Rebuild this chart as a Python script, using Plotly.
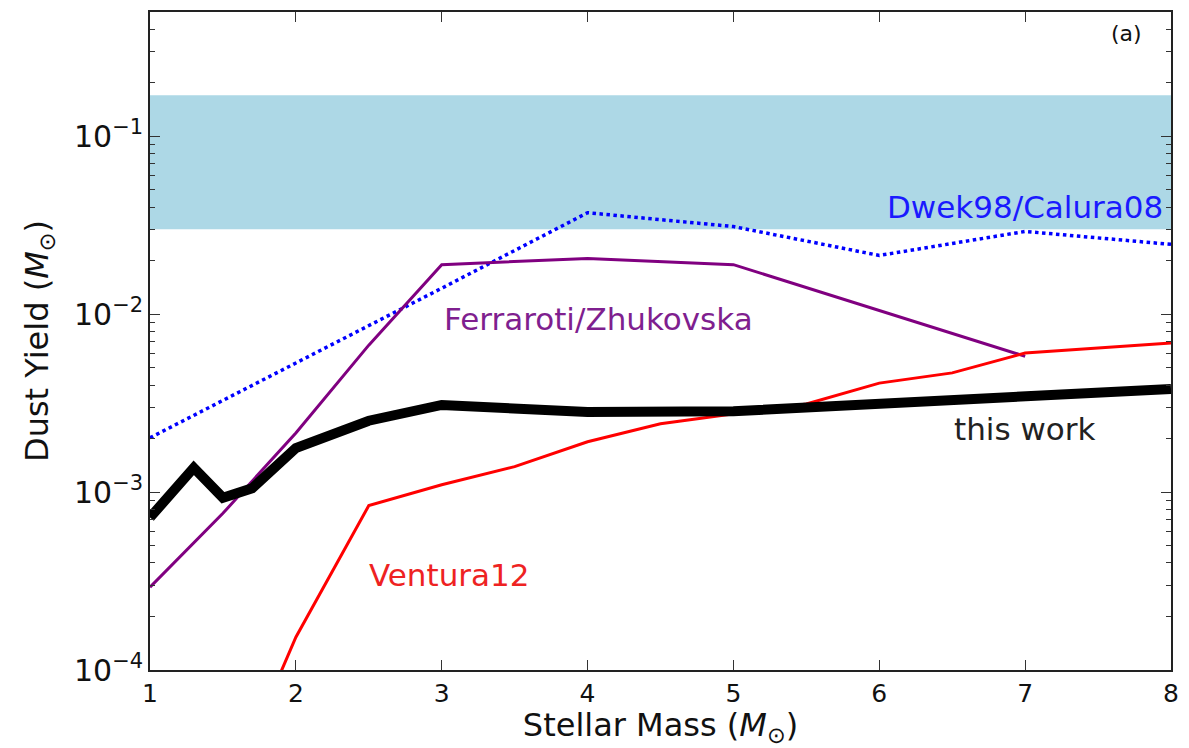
import numpy as np
import plotly.graph_objects as go

# Stellar mass grids (M_sun) and dust yields (M_sun)
mass_this = [1.0, 1.3, 1.5, 1.7, 2.0, 2.5, 3.0, 4.0, 5.0, 6.0, 7.0, 8.0]
yield_this = [7.2e-4, 1.37e-3, 9.3e-4, 1.05e-3, 1.77e-3, 2.52e-3, 3.09e-3,
              2.82e-3, 2.85e-3, 3.13e-3, 3.47e-3, 3.80e-3]

mass_fz = [1.0, 1.5, 2.0, 2.5, 3.0, 4.0, 5.0, 6.0, 7.0]
yield_fz = [2.92e-4, 7.6e-4, 2.15e-3, 6.7e-3, 1.90e-2, 2.06e-2, 1.90e-2,
            1.05e-2, 5.8e-3]

mass_v12 = [1.5, 2.0, 2.5, 3.0, 3.5, 4.0, 4.5, 5.0, 5.5, 6.0, 6.5, 7.0, 8.0]
yield_v12 = [1.7e-5, 1.53e-4, 8.4e-4, 1.10e-3, 1.39e-3, 1.92e-3, 2.42e-3,
             2.75e-3, 3.13e-3, 4.1e-3, 4.68e-3, 6.05e-3, 6.9e-3]

mass_dwek = [1.0, 2.0, 3.0, 4.0, 5.0, 6.0, 7.0, 8.0]
yield_dwek = [2.02e-3, 5.3e-3, 1.40e-2, 3.72e-2, 3.11e-2, 2.14e-2, 2.92e-2,
              2.47e-2]

# Range of the shaded band (M_sun)
band_range = [0.03, 0.17]

x_ticks = [1, 2, 3, 4, 5, 6, 7, 8]

FONT = "DejaVu Sans"

fig = go.Figure()

fig.add_shape(type="rect", xref="paper", yref="y", x0=0, x1=1,
              y0=band_range[0], y1=band_range[1],
              fillcolor="#add8e6", line_width=0, layer="below")

fig.add_trace(go.Scatter(x=mass_dwek, y=yield_dwek, mode="lines",
                         line=dict(color="#0000ff", width=3.5, dash="dot"),
                         showlegend=False))
fig.add_trace(go.Scatter(x=mass_fz, y=yield_fz, mode="lines",
                         line=dict(color="#800080", width=3),
                         showlegend=False))
fig.add_trace(go.Scatter(x=mass_v12, y=yield_v12, mode="lines",
                         line=dict(color="#ff0000", width=3),
                         showlegend=False))
fig.add_trace(go.Scatter(x=mass_this, y=yield_this, mode="lines",
                         line=dict(color="#000000", width=10),
                         showlegend=False))

labels = [
    ("Dwek98/Calura08", 7.96, 0.0403, "right", "#1a1aff"),
    ("Ferraroti/Zhukovska", 3.0, 0.00937, "left", "#7f1f8f"),
    ("this work", 6.5, 0.00227, "left", "#222222"),
    ("Ventura12", 2.49, 3.4e-4, "left", "#ee2222"),
]
for text, x, y, anchor, color in labels:
    fig.add_annotation(x=x, y=np.log10(y), text=text, showarrow=False,
                       xanchor=anchor, yanchor="middle",
                       font=dict(family=FONT, size=31, color=color))

fig.add_annotation(x=0.974, y=0.968, xref="paper", yref="paper", text="(a)",
                   showarrow=False, xanchor="right", yanchor="middle",
                   font=dict(family=FONT, size=22, color="#111111"))

fig.update_layout(
    width=1189, height=748,
    margin=dict(l=150, r=13, t=10, b=78),
    plot_bgcolor="white", paper_bgcolor="white",
    font=dict(family=FONT, color="#111111"),
)

fig.update_xaxes(
    range=[1, 8], tickvals=x_ticks, ticktext=[str(v) for v in x_ticks],
    ticks="inside", ticklen=10, tickwidth=1.2, tickcolor="#333333",
    showline=True, linecolor="#222222", linewidth=2, mirror="allticks",
    showgrid=False, zeroline=False,
    tickfont=dict(size=25, family=FONT),
    title=dict(text="Stellar Mass (<i>M</i><sub>⊙</sub>)",
               font=dict(size=32, family=FONT), standoff=4),
)

fig.update_yaxes(
    type="log", range=[-4, np.log10(0.5)], dtick=1, exponentformat="power",
    ticks="inside", ticklen=10, tickwidth=1.2, tickcolor="#333333",
    minor=dict(ticks="inside", ticklen=5, tickwidth=1, tickcolor="#333333",
               showgrid=False),
    showline=True, linecolor="#222222", linewidth=2, mirror="allticks",
    showgrid=False, zeroline=False,
    tickfont=dict(size=24, family=FONT),
    title=dict(text="Dust Yield (<i>M</i><sub>⊙</sub>)",
               font=dict(size=32, family=FONT), standoff=16),
)

fig.write_html("out.html")
